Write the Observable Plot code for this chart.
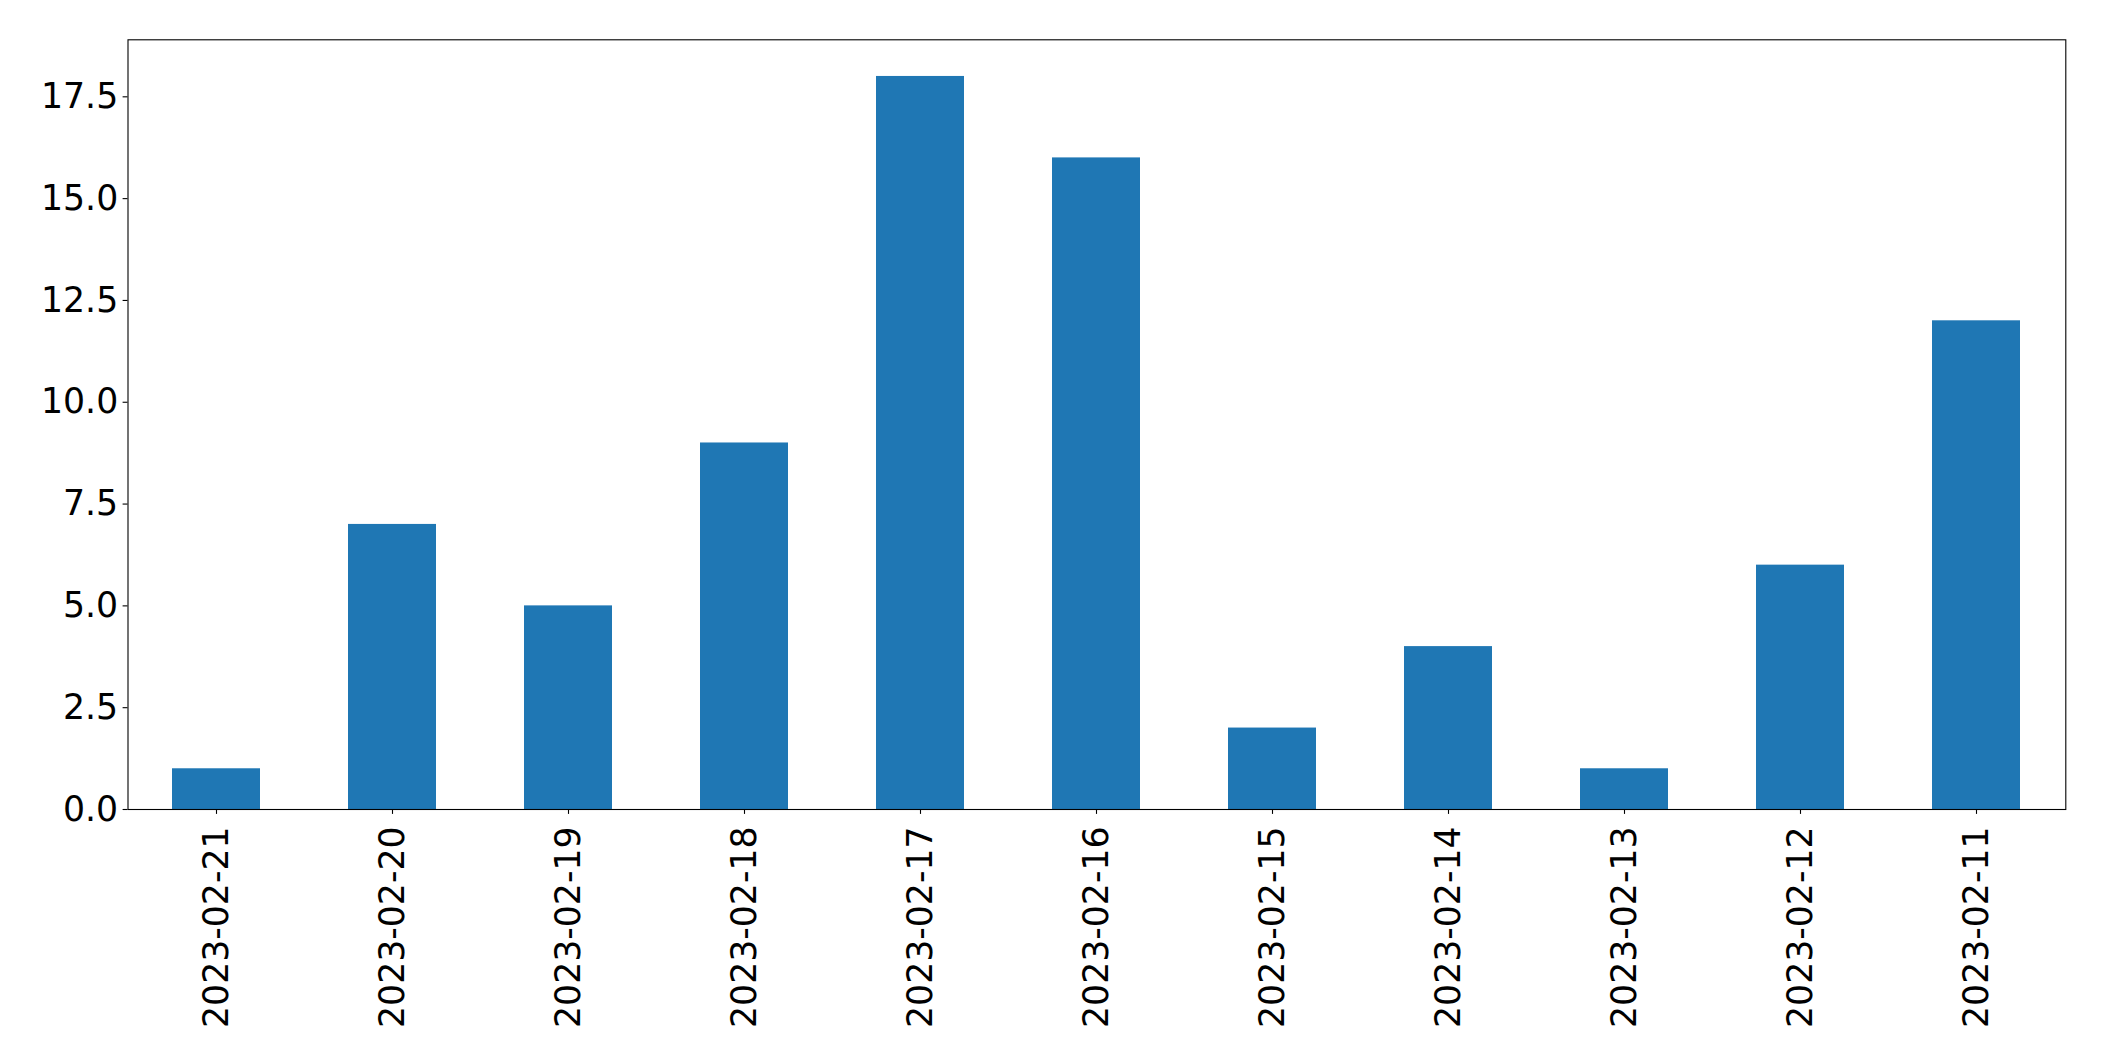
<!DOCTYPE html>
<html>
<head>
<meta charset="utf-8">
<script src="https://cdn.jsdelivr.net/npm/d3@7"></script>
<script src="https://cdn.jsdelivr.net/npm/@observablehq/plot@0.6"></script>
<style>
  html, body { margin: 0; padding: 0; background: #fff; }
  #chart svg { display: block; }
</style>
</head>
<body>
<div id="chart"></div>
<script>
const dates = ["2023-02-21","2023-02-20","2023-02-19","2023-02-18","2023-02-17","2023-02-16","2023-02-15","2023-02-14","2023-02-13","2023-02-12","2023-02-11"];
const counts = [1, 7, 5, 9, 18, 16, 2, 4, 1, 6, 12];
const yTicks = [0, 2.5, 5, 7.5, 10, 12.5, 15, 17.5];

const data = dates.map((d, i) => ({date: d, count: counts[i]}));

const chart = Plot.plot({
  width: 2104,
  height: 1061,
  marginLeft: 127.5,
  marginRight: 38.7,
  marginTop: 39.3,
  marginBottom: 252,
  style: {fontFamily: "'DejaVu Sans', sans-serif", fontSize: "34.7px", color: "#000", background: "#fff"},
  x: {domain: dates, paddingInner: 0.5, paddingOuter: 0.25, label: null},
  y: {domain: [0, 18.9], label: null},
  marks: [
    Plot.barY(data, {x: "date", y: "count", fill: "#1f77b4"}),
    Plot.frame({stroke: "#000", strokeWidth: 1.1}),
    Plot.axisY({ticks: yTicks, tickFormat: d3.format(".1f"), tickSize: 4.9, tickPadding: 4.9, fontSize: 34.7, label: null, stroke: "#000", strokeWidth: 1.1}),
    Plot.axisX({tickRotate: -90, tickSize: 4.9, tickPadding: 12, fontSize: 34.7, label: null, stroke: "#000", strokeWidth: 1.1})
  ]
});
document.getElementById("chart").appendChild(chart);
</script>
</body>
</html>
